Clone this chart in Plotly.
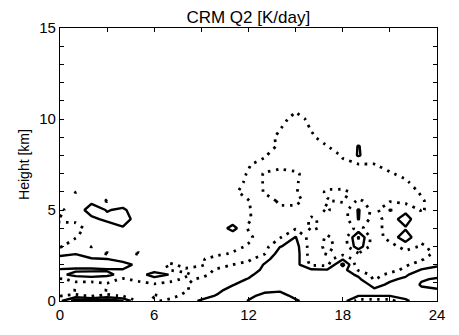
import plotly.graph_objects as go

# Local time (hours) and height (km) grid
hours = list(range(0, 25))
heights = [0, 0.3, 0.6, 0.9, 1.2, 1.45, 1.7, 2.0, 2.3, 2.6, 3.0, 3.5, 4.0, 4.5,
           5.0, 5.5, 6.0, 6.5, 7.0, 7.5, 8.0, 8.5, 9.0, 10.0, 11.0, 13.0, 15.0]

# Q2 [K/day], one row per height, columns = hours 0..24
q2_h00_0 = [0.3, 2.0, 2.0, 2.0, 1.6, -0.6, -0.6, -0.3, 0.2, 0.6, 0.9, 1.0, 1.55, 2.0, 2.0, 1.6, 1.2, 1.0, 1.0, -1.0, -1.0, -1.0, 0.4, 0.8, 0.8]
q2_h00_3 = [-0.6, -0.2, -0.8, -0.2, -0.7, -0.9, -0.4, -0.8, -0.3, 0.2, 0.55, 1.0, 1.3, 1.7, 1.75, 1.3, 1.1, 1.0, 1.0, 0.6, 0.6, 0.6, 0.7, 1.0, 1.1]
q2_h00_6 = [-0.8, -1.6, -0.9, -1.6, -0.9, -0.5, -1.0, -0.6, -0.6, -0.1, 0.3, 0.8, 1.1, 1.3, 1.4, 1.1, 1.0, 1.0, 1.0, 0.9, 0.6, 0.8, 0.9, 1.3, 1.4]
q2_h00_9 = [-0.9, -0.7, -1.0, -0.6, -1.0, -0.8, -0.6, -0.7, -0.55, -0.2, 0.0, 0.45, 0.9, 1.0, 1.0, 1.0, 1.0, 1.0, 1.0, 0.9, 0.3, 0.6, 0.8, 1.6, 1.8]
q2_h01_2 = [-0.6, -0.3, 0.0, -0.2, -0.6, -0.3, 0.1, -0.3, -0.6, -0.4, -0.1, 0.2, 0.55, 1.0, 1.0, 1.0, 1.0, 1.0, 1.0, 0.7, -0.6, 0.4, 0.6, 1.4, 1.6]
q2_h01_45 = [0.2, 0.9, 1.0, 0.8, 0.1, 0.0, 1.0, 0.45, -0.4, -0.7, -0.3, -0.1, 0.3, 0.9, 1.0, 1.0, 1.0, 1.0, 1.0, 0.3, -0.8, -0.3, 0.4, 0.9, 1.2]
q2_h01_7 = [0.4, 0.3, 0.3, 0.4, 0.45, -0.2, 0.1, -0.55, -0.6, -0.8, -0.4, -0.2, 0.0, 0.7, 1.0, 0.9, 0.7, 0.6, 0.9, -0.6, -1.0, -0.8, -0.3, 0.6, 0.9]
q2_h02_0 = [1.0, 1.0, 1.0, 1.0, 0.8, 0.3, -0.2, -0.6, -0.3, -0.4, -0.8, -0.5, -0.2, 0.55, 1.0, 0.9, -0.7, -0.8, 1.8, -1.2, -1.1, -1.0, -0.6, -0.2, 0.3]
q2_h02_3 = [0.9, 1.0, 0.6, 0.52, 0.2, 0.0, -0.3, -0.2, 0.0, -0.4, -0.9, -1.0, -0.7, 0.2, 1.0, 1.0, -1.0, -0.9, 0.4, -1.0, -1.2, -1.0, -0.8, -0.6, 0.0]
q2_h02_6 = [0.2, 0.45, 0.0, -0.6, -0.1, -0.6, 0.0, -0.2, 0.0, 0.0, -0.3, -0.6, -1.0, -0.6, 1.0, 1.0, -1.0, -1.6, -0.8, -0.6, -1.3, -1.1, -0.9, -0.7, -0.4]
q2_h03_0 = [-0.6, 0.0, -0.55, 0.0, 0.0, 0.0, 0.0, 0.0, 0.0, 0.0, 0.0, -0.2, -0.6, -0.9, 0.45, 0.9, -1.0, -1.7, -1.2, 1.2, -1.2, -1.0, 0.0, -0.6, -0.3]
q2_h03_5 = [-0.7, -0.55, 0.0, 0.0, 0.0, 0.0, 0.0, 0.0, 0.0, 0.0, 0.0, -0.3, -0.3, -1.0, -0.6, 0.55, -1.0, -1.6, -1.2, 1.6, -1.2, 0.0, 1.0, -0.3, -0.2]
q2_h04_0 = [-0.6, -0.8, -0.2, 0.0, 0.4, 0.0, 0.0, 0.0, 0.0, 0.0, -0.2, 0.9, -0.6, -1.2, -1.0, -0.6, -1.7, -1.2, -1.0, -0.3, -1.0, 0.0, 0.4, -0.4, -0.1]
q2_h04_5 = [-0.45, -0.3, 0.3, 0.7, 1.0, 0.0, 0.0, 0.0, 0.0, 0.0, 0.0, -0.2, -0.4, -1.0, -1.2, -1.0, -1.6, -1.3, -1.0, 0.55, -1.0, 0.0, 1.0, -0.4, -0.2]
q2_h05_0 = [-0.7, 0.0, 0.9, 0.45, 0.65, 0.0, 0.0, 0.0, 0.0, 0.0, 0.0, 0.0, -0.4, -1.2, -1.4, -1.3, -1.2, -1.6, -1.0, 0.6, -0.9, 0.55, 0.2, -0.55, -0.3]
q2_h05_5 = [0.0, 0.0, 0.3, -0.6, 0.0, 0.0, 0.0, 0.0, 0.0, 0.0, 0.0, -0.2, -0.45, -1.2, -1.6, -1.7, -1.2, -1.45, -1.6, -0.3, -1.0, -0.6, -0.8, -0.55, -0.3]
q2_h06_0 = [0.0, -0.55, 0.0, 0.0, 0.0, 0.0, 0.0, 0.0, 0.0, 0.0, 0.0, -0.3, -0.9, -1.55, -1.7, -1.55, -1.1, -1.6, -1.7, -1.2, -1.0, -0.9, -0.7, -0.45, -0.2]
q2_h06_5 = [0.0, 0.0, 0.0, 0.0, 0.0, 0.0, 0.0, 0.0, 0.0, 0.0, 0.0, -0.3, -0.6, -1.6, -1.8, -1.6, -1.0, -1.2, -1.0, -0.9, -0.9, -0.8, -0.6, -0.2, 0.0]
q2_h07_0 = [0.0, 0.0, 0.0, 0.0, 0.0, 0.0, 0.0, 0.0, 0.0, 0.0, 0.0, -0.2, -0.55, -1.6, -1.7, -1.6, -1.2, -1.0, -0.9, -0.8, -0.7, -0.55, -0.35, -0.1, 0.0]
q2_h07_5 = [0.0, 0.0, 0.0, 0.0, 0.0, 0.0, 0.0, 0.0, 0.0, 0.0, 0.0, 0.0, -0.45, -0.75, -1.3, -1.2, -1.0, -0.8, -0.6, -0.55, -0.52, -0.3, -0.1, 0.0, 0.0]
q2_h08_0 = [0.0, 0.0, 0.0, 0.0, 0.0, 0.0, 0.0, 0.0, 0.0, 0.0, 0.0, 0.0, -0.3, -0.4, -1.0, -1.2, -1.0, -0.8, -0.45, 0.6, -0.2, 0.0, 0.0, 0.0, 0.0]
q2_h08_5 = [0.0, 0.0, 0.0, 0.0, 0.0, 0.0, 0.0, 0.0, 0.0, 0.0, 0.0, 0.0, -0.1, -0.2, -0.6, -1.1, -0.8, -0.52, -0.2, 0.55, -0.1, 0.0, 0.0, 0.0, 0.0]
q2_h09_0 = [0.0, 0.0, 0.0, 0.0, 0.0, 0.0, 0.0, 0.0, 0.0, 0.0, 0.0, 0.0, 0.0, -0.1, -0.7, -1.0, -0.6, -0.2, 0.0, 0.0, 0.0, 0.0, 0.0, 0.0, 0.0]
q2_h10_0 = [0.0, 0.0, 0.0, 0.0, 0.0, 0.0, 0.0, 0.0, 0.0, 0.0, 0.0, 0.0, 0.0, 0.0, -0.2, -0.8, -0.3, 0.0, 0.0, 0.0, 0.0, 0.0, 0.0, 0.0, 0.0]
q2_h11_0 = [0.0] * 25
q2_h13_0 = [0.0] * 25
q2_h15_0 = [0.0] * 25

q2 = [q2_h00_0, q2_h00_3, q2_h00_6, q2_h00_9, q2_h01_2, q2_h01_45, q2_h01_7,
      q2_h02_0, q2_h02_3, q2_h02_6, q2_h03_0, q2_h03_5, q2_h04_0, q2_h04_5,
      q2_h05_0, q2_h05_5, q2_h06_0, q2_h06_5, q2_h07_0, q2_h07_5, q2_h08_0,
      q2_h08_5, q2_h09_0, q2_h10_0, q2_h11_0, q2_h13_0, q2_h15_0]

x_ticks = [0, 6, 12, 18, 24]
y_ticks = [0, 5, 10, 15]

black = [[0, "black"], [1, "black"]]

fig = go.Figure()
# positive contours: solid
fig.add_trace(go.Contour(
    x=hours, y=heights, z=q2,
    contours=dict(start=0.5, end=1.5, size=1, coloring="lines"),
    colorscale=black, showscale=False,
    line=dict(width=2.4, smoothing=0),
    hoverinfo="skip",
))
# negative contours: dotted
fig.add_trace(go.Contour(
    x=hours, y=heights, z=q2,
    contours=dict(start=-1.5, end=-0.5, size=1, coloring="lines"),
    colorscale=black, showscale=False,
    line=dict(width=2.8, dash="2.5px,5.5px", smoothing=0),
    hoverinfo="skip",
))

font_family = "Liberation Sans, Arial, sans-serif"

fig.update_layout(
    width=459, height=335,
    margin=dict(l=60, r=22, t=28, b=23),
    paper_bgcolor="white", plot_bgcolor="white",
    showlegend=False,
    font=dict(family=font_family, color="black", size=15),
    title=dict(text="CRM Q2 [K/day]", x=0.541, xanchor="center",
               y=1 - 17.5 / 335, yanchor="middle", yref="container",
               font=dict(size=17, family=font_family, color="black")),
    xaxis=dict(range=[0, 24], tickvals=x_ticks, ticktext=[str(v) for v in x_ticks],
               ticks="inside", ticklen=4, tickcolor="black",
               minor=dict(dtick=3, ticks="inside", ticklen=4, tickcolor="black"),
               showline=True, linecolor="black", linewidth=1.3, mirror="ticks",
               showgrid=False, zeroline=False, tickfont=dict(size=15)),
    yaxis=dict(range=[0, 15], tickvals=y_ticks, ticktext=[str(v) for v in y_ticks],
               ticks="inside", ticklen=4, tickcolor="black",
               minor=dict(dtick=1, ticks="inside", ticklen=4, tickcolor="black"),
               showline=True, linecolor="black", linewidth=1.3, mirror="ticks",
               showgrid=False, zeroline=False, tickfont=dict(size=15),
               title=dict(text="Height [km]", font=dict(size=14), standoff=6)),
)

fig.write_html("out.html")
